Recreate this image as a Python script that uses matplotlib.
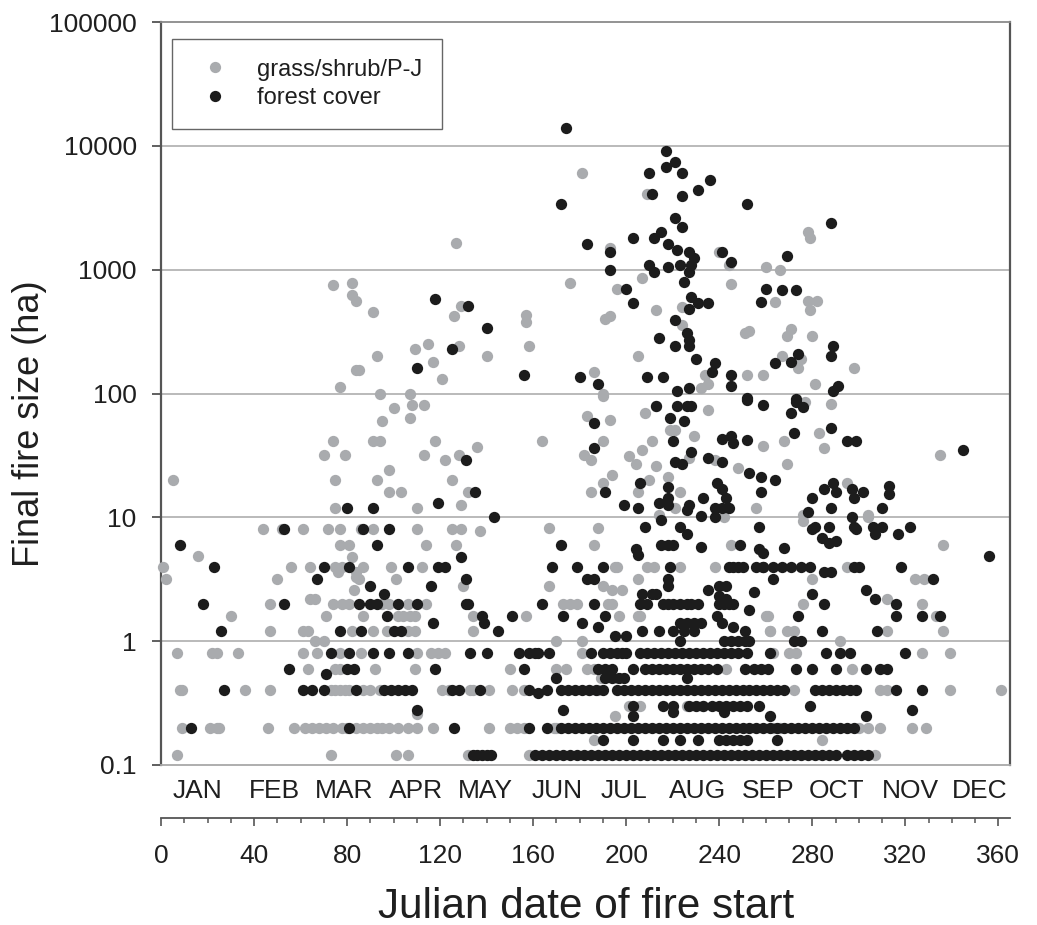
import matplotlib
matplotlib.use("Agg")
import matplotlib.pyplot as plt
from matplotlib.ticker import FixedLocator, MultipleLocator, NullLocator
from matplotlib.lines import Line2D
import matplotlib.transforms as mtransforms

plt.rcParams['font.family'] = ['Liberation Sans', 'DejaVu Sans']

# ---------------- data (Julian day, final fire size in ha) ----------------
gray_points = [
    (1, 4), (2, 3.2), (5, 20), (7, 0.8), (8, 0.4), (9, 0.4), (7, 0.12), (9, 0.2), (16, 4.9),
    (21, 0.2), (24, 0.2), (25, 0.2), (22, 0.8), (24, 0.8), (33, 0.8), (36, 0.4), (30, 1.6),
    (44, 8), (52, 8), (47, 1.2), (47, 0.4), (47, 2), (50, 3.2), (46, 0.2),
    (75, 12), (110, 12), (129, 12.5),
    (61, 8), (72, 8), (77, 8), (86, 8), (91, 8), (110, 8), (125, 8), (129, 8), (137, 7.7),
    (77, 6), (81, 6), (114, 6), (127, 6), (82, 4.8),
    (56, 4), (64, 4), (75, 4), (78, 4), (87, 4), (99, 4), (112, 4),
    (76, 3.6), (84, 3.6), (84, 3.3), (85, 3.2), (101, 3.2), (130, 2.8), (83, 2.6),
    (74, 2), (78, 2), (81, 2), (95, 2), (98, 2), (106, 2), (114, 2), (64, 2.2), (66, 2.2),
    (71, 1.6), (87, 1.6), (102, 1.6), (104, 1.6), (107, 1.6), (109, 1.6), (134, 1.6),
    (61, 1.2), (63, 1.2), (82, 1.2), (91, 1.2), (97, 1.2), (106, 1.2), (109, 1.2), (134, 1.2),
    (66, 1.0), (70, 1.0),
    (61, 0.8), (67, 0.8), (77, 0.8), (86, 0.8), (110, 0.8), (116, 0.8), (119, 0.8), (122, 0.8),
    (63, 0.6), (75, 0.6), (77, 0.6), (92, 0.6), (109, 0.6),
    (73, 0.4), (75, 0.4), (77, 0.4), (79, 0.4), (81, 0.4), (87, 0.4), (90, 0.4), (94, 0.4),
    (121, 0.4), (124, 0.4), (133, 0.4), (134, 0.4), (141, 0.4), (110, 0.26),
    (57, 0.2), (62, 0.2), (65, 0.2), (68, 0.2), (71, 0.2), (74, 0.2), (78, 0.2), (80, 0.2),
    (84, 0.2), (87, 0.2), (90, 0.2), (93, 0.2), (95, 0.2), (98, 0.2), (102, 0.2), (106, 0.2),
    (110, 0.2), (117, 0.2), (141, 0.2),
    (73, 0.12), (101, 0.12), (106, 0.12), (132, 0.12),
    (74, 750), (82, 780), (82, 620), (84, 560), (91, 455), (129, 510), (126, 420), (109, 230),
    (115, 250), (128, 240), (93, 200), (140, 200), (117, 180), (84, 155), (85, 155), (121, 130),
    (77, 113), (94, 100), (107, 100), (100, 76), (108, 81), (113, 81), (95, 60), (107, 63),
    (74, 41), (91, 41), (94, 41), (118, 41), (136, 37), (70, 32), (79, 32), (113, 32), (128, 32),
    (122, 29), (98, 24), (75, 20), (93, 20), (125, 20), (98, 16), (103, 16), (132, 16), (127, 1650),
    (181, 6000), (209, 4100), (193, 1500), (207, 850), (176, 780), (196, 700), (224, 500),
    (213, 470), (157, 430), (157, 380), (158, 240), (191, 400), (193, 420), (224, 360), (205, 200),
    (186, 150), (190, 100), (232, 110), (235, 120),
    (278, 2000), (279, 1800), (240, 1400), (244, 1100), (260, 1050), (266, 1000), (245, 770),
    (264, 550), (278, 560), (282, 560), (279, 470), (251, 310), (253, 320), (269, 290), (271, 330),
    (280, 290), (267, 200), (275, 190), (274, 160), (298, 160), (252, 140), (259, 140), (281, 120),
    (234, 140),
    (190, 95), (213, 80), (235, 74), (208, 69), (183, 66), (193, 61), (219, 51), (221, 51),
    (164, 41), (190, 41), (211, 41), (229, 45), (182, 32), (185, 29), (207, 35), (201, 31),
    (204, 27), (213, 26), (227, 30), (194, 22), (190, 19), (210, 20), (218, 21), (185, 16),
    (205, 16), (223, 16), (221, 12), (214, 10.5), (167, 8.2), (188, 8.2),
    (277, 85), (288, 83), (283, 48), (259, 38), (268, 41), (285, 36), (335, 32), (238, 29),
    (248, 25), (269, 27), (256, 12), (242, 10), (295, 19), (304, 10), (276, 9.4),
    (186, 6), (245, 6), (195, 4), (196, 4), (209, 4), (212, 4), (223, 4), (238, 4), (205, 3.2),
    (167, 2.8), (190, 2.8), (194, 2.6), (198, 2.6), (173, 2), (176, 2), (179, 2), (192, 2),
    (194, 2), (157, 1.6), (197, 1.6), (205, 1.6), (206, 1.6), (260, 1.6), (262, 1.2), (170, 1.0),
    (181, 1.0), (181, 0.8), (263, 0.8), (150, 0.6), (170, 0.6), (174, 0.6), (183, 0.6), (186, 0.6),
    (243, 0.6), (189, 0.5), (196, 0.5), (151, 0.4), (156, 0.4), (184, 0.4), (188, 0.4),
    (201, 0.3), (206, 0.3), (226, 0.3), (233, 0.3), (195, 0.25), (150, 0.2), (153, 0.2),
    (156, 0.2), (169, 0.2), (170, 0.2), (263, 0.2), (266, 0.2), (186, 0.16), (158, 0.12),
    (276, 10.5), (304, 10.5), (336, 6), (295, 4), (280, 3.2), (324, 3.2), (328, 3.2), (312, 2.2),
    (276, 2), (327, 2), (261, 1.6), (333, 1.6), (262, 1.2), (269, 1.2), (272, 1.2), (312, 1.2),
    (336, 1.2), (292, 1.0), (270, 0.8), (273, 0.8), (327, 0.8), (339, 0.8), (297, 0.6),
    (272, 0.4), (309, 0.4), (312, 0.4), (339, 0.4), (361, 0.4), (300, 0.2), (304, 0.2),
    (309, 0.2), (323, 0.2), (329, 0.2), (284, 0.16), (307, 0.12),
]

black_points = [
    (8, 6), (13, 0.2), (18, 2), (23, 4), (26, 1.2), (27, 0.4), (53, 8), (53, 2), (55, 0.6),
    (80, 12), (91, 12), (119, 13), (143, 10), (87, 8), (98, 8), (93, 6), (129, 4.8), (70, 4),
    (81, 4), (106, 4), (119, 4), (122, 4), (67, 3.2), (116, 2.8), (131, 3.2), (90, 2.8), (96, 2.4),
    (85, 2), (90, 2), (93, 2), (102, 2), (110, 2), (131, 2), (132, 2), (97, 1.6), (117, 1.4),
    (139, 1.4), (77, 1.2), (86, 1.2), (100, 1.2), (103, 1.2), (145, 1.2), (73, 0.8), (81, 0.8),
    (91, 0.8), (98, 0.8), (106, 0.8), (133, 0.8), (140, 0.8), (80, 0.6), (83, 0.6), (118, 0.6),
    (71, 0.54), (61, 0.4), (65, 0.4), (70, 0.4), (84, 0.4), (96, 0.4), (99, 0.4), (102, 0.4),
    (105, 0.4), (108, 0.4), (125, 0.4), (128, 0.4), (137, 0.4), (110, 0.28), (81, 0.2), (126, 0.2),
    (134, 0.12), (136, 0.12), (138, 0.12), (140, 0.12), (142, 0.12),
    (118, 580), (132, 510), (140, 340), (125, 230), (110, 160), (131, 29), (135, 16),
    (174, 14000), (172, 3400), (217, 9000), (221, 7400), (217, 6700), (210, 6000), (224, 6000),
    (236, 5300), (231, 4400), (211, 4100), (224, 3900), (221, 2600), (224, 2200), (215, 2000),
    (212, 1800), (203, 1800), (183, 1600), (218, 1600), (222, 1450), (193, 1400), (227, 1400),
    (229, 1250), (228, 1100), (210, 1100), (223, 1100), (218, 1050), (193, 1000), (212, 950),
    (227, 950), (200, 700), (225, 800), (203, 540), (228, 600), (231, 540), (235, 540), (227, 480),
    (221, 390), (226, 310), (227, 270), (227, 240), (214, 280), (221, 240), (230, 190), (156, 140),
    (180, 135), (188, 120), (209, 135), (216, 135), (222, 105), (227, 110),
    (252, 3400), (288, 2400), (241, 1400), (245, 1150), (269, 1300), (260, 700), (267, 680),
    (273, 680), (258, 550), (289, 240), (288, 200), (274, 210), (271, 180), (264, 175), (238, 175),
    (237, 150), (245, 140), (245, 115), (291, 115), (289, 105), (252, 92), (273, 90),
    (213, 80), (222, 80), (226, 80), (228, 80), (219, 64), (186, 58), (225, 60), (220, 41),
    (186, 36), (228, 34), (235, 30), (221, 28), (224, 27), (206, 19), (218, 17.5), (239, 19),
    (191, 16), (218, 14.4), (233, 14.4), (199, 12.5), (205, 12), (214, 13), (227, 12.5),
    (226, 11.5), (232, 10.2), (215, 9.5), (208, 8.3), (223, 8.3),
    (252, 89), (259, 81), (273, 85), (276, 78), (271, 69), (272, 48), (288, 53), (241, 43),
    (245, 45), (246, 40), (252, 42), (295, 41), (299, 41), (345, 35), (241, 28), (253, 23),
    (258, 21), (264, 20), (241, 17), (243, 14.4), (241, 12), (258, 16), (238, 10), (289, 19),
    (285, 17), (290, 16), (297, 17), (302, 16), (298, 14.4), (313, 18), (313, 15.5), (310, 12),
    (280, 14.4), (278, 11), (288, 12), (297, 10), (257, 8.3), (281, 8.3), (287, 8.3), (298, 8.3),
    (306, 8.3), (310, 8.3), (322, 8.3),
    (238, 12), (244, 12), (218, 12.5),
    (172, 6), (204, 5.5), (205, 5), (215, 6), (218, 6), (220, 6), (226, 7.3), (232, 5.8),
    (249, 6), (257, 5.5), (259, 5.2),
    (168, 4), (179, 4), (190, 4), (219, 4), (244, 4), (246, 4), (248, 4), (250, 4), (256, 4),
    (259, 4), (263, 3.2), (183, 3.2), (186, 3.2), (218, 3.2), (218, 2.8), (240, 2.8), (243, 2.8),
    (207, 2.4), (211, 2.4), (213, 2.4), (235, 2.6), (240, 2.3), (243, 2.2), (255, 2.5),
    (164, 2), (186, 2), (206, 2), (209, 2), (216, 2), (218, 2), (220, 2), (223, 2), (226, 2),
    (228, 2), (231, 2), (240, 2), (242, 2), (244, 2), (246, 2), (253, 1.8),
    (138, 1.6), (151, 1.6), (173, 1.6), (181, 1.4), (191, 1.6), (188, 1.3), (223, 1.4),
    (226, 1.4), (229, 1.4), (232, 1.4), (239, 1.6), (241, 1.4), (246, 1.3), (251, 1.2),
    (195, 1.1), (200, 1.1), (207, 1.2), (214, 1.2), (220, 1.2), (225, 1.2), (229, 1.2),
    (242, 1.0), (245, 1.0), (248, 1.0), (251, 1.0), (253, 1.0), (223, 1.0),
    (154, 0.8), (158, 0.8), (161, 0.8), (162, 0.8), (167, 0.8), (185, 0.8), (190, 0.8), (193, 0.8),
    (196, 0.8), (198, 0.8), (200, 0.8), (206, 0.8), (209, 0.8), (212, 0.8), (215, 0.8), (218, 0.8),
    (221, 0.8), (224, 0.8), (227, 0.8), (230, 0.8), (233, 0.8), (236, 0.8), (239, 0.8), (242, 0.8),
    (245, 0.8), (248, 0.8), (252, 0.8),
    (156, 0.6), (188, 0.6), (191, 0.6), (194, 0.6), (203, 0.6), (208, 0.6), (211, 0.6), (214, 0.6),
    (217, 0.6), (220, 0.6), (223, 0.6), (226, 0.6), (229, 0.6), (232, 0.6), (235, 0.6), (239, 0.6),
    (251, 0.6), (255, 0.6),
    (170, 0.5), (191, 0.5), (194, 0.5), (197, 0.5), (199, 0.5), (226, 0.5),
    (158, 0.4), (162, 0.38), (166, 0.4), (172, 0.4), (175, 0.4), (178, 0.4), (181, 0.4),
    (184, 0.4), (187, 0.4), (190, 0.4), (196, 0.4), (199, 0.4), (202, 0.4), (205, 0.4),
    (208, 0.4), (211, 0.4), (214, 0.4), (217, 0.4), (220, 0.4), (223, 0.4), (226, 0.4),
    (229, 0.4), (232, 0.4), (235, 0.4), (238, 0.4), (241, 0.4), (244, 0.4), (247, 0.4),
    (250, 0.4), (253, 0.4), (256, 0.4), (259, 0.4), (262, 0.4), (265, 0.4), (268, 0.4),
    (281, 0.4), (284, 0.4), (287, 0.4), (290, 0.4), (293, 0.4), (296, 0.4), (299, 0.4),
    (316, 0.4), (327, 0.4),
    (203, 0.3), (216, 0.3), (220, 0.3), (227, 0.3), (230, 0.3), (233, 0.3), (237, 0.3),
    (240, 0.3), (243, 0.3), (246, 0.3), (249, 0.3), (252, 0.3), (257, 0.3), (279, 0.3),
    (173, 0.28), (220, 0.27), (242, 0.27), (323, 0.28), (203, 0.25), (262, 0.25), (303, 0.25),
    (158, 0.2), (166, 0.2), (172, 0.2), (175, 0.2), (178, 0.2), (181, 0.2), (184, 0.2),
    (187, 0.2), (190, 0.2), (193, 0.2), (196, 0.2), (199, 0.2), (202, 0.2), (205, 0.2),
    (208, 0.2), (211, 0.2), (214, 0.2), (217, 0.2), (220, 0.2), (223, 0.2), (226, 0.2),
    (229, 0.2), (232, 0.2), (235, 0.2), (238, 0.2), (241, 0.2), (244, 0.2), (247, 0.2),
    (250, 0.2), (253, 0.2), (256, 0.2), (259, 0.2), (262, 0.2), (265, 0.2), (268, 0.2),
    (271, 0.2), (274, 0.2), (277, 0.2), (280, 0.2), (283, 0.2), (286, 0.2), (289, 0.2),
    (292, 0.2), (295, 0.2), (298, 0.2),
    (190, 0.16), (203, 0.16), (216, 0.16), (223, 0.16), (231, 0.16), (240, 0.16), (243, 0.16),
    (246, 0.16), (249, 0.16), (252, 0.16), (265, 0.16),
    (161, 0.12), (164, 0.12), (167, 0.12), (170, 0.12), (173, 0.12), (176, 0.12), (179, 0.12),
    (182, 0.12), (185, 0.12), (188, 0.12), (191, 0.12), (194, 0.12), (197, 0.12), (200, 0.12),
    (203, 0.12), (206, 0.12), (209, 0.12), (212, 0.12), (215, 0.12), (218, 0.12), (221, 0.12),
    (224, 0.12), (227, 0.12), (230, 0.12), (233, 0.12), (236, 0.12), (239, 0.12), (242, 0.12),
    (245, 0.12), (248, 0.12), (251, 0.12), (254, 0.12), (257, 0.12), (260, 0.12), (263, 0.12),
    (266, 0.12), (269, 0.12), (272, 0.12), (275, 0.12), (278, 0.12), (281, 0.12), (284, 0.12),
    (287, 0.12), (290, 0.12), (295, 0.12), (298, 0.12), (301, 0.12), (304, 0.12),
    (280, 8), (299, 8), (307, 7.3), (317, 7.3),
    (284, 6.8), (287, 6.2), (290, 6.5), (268, 5.7), (356, 4.9),
    (259, 4), (263, 4), (267, 4), (271, 4), (275, 4), (279, 4), (285, 3.6), (288, 3.6),
    (298, 4), (300, 4), (318, 4),
    (332, 3.2), (303, 2.6), (307, 2.2), (280, 2.4), (285, 2), (316, 2), (274, 1.6), (316, 1.6),
    (327, 1.6), (335, 1.6), (284, 1.2), (308, 1.2), (272, 1), (275, 1), (262, 0.8), (286, 0.8),
    (292, 0.8), (296, 0.8), (320, 0.8),
    (258, 0.6), (261, 0.6), (273, 0.6), (280, 0.6), (290, 0.6), (303, 0.6), (309, 0.6), (312, 0.6),
]

series_labels = ["grass/shrub/P-J", "forest cover"]
months = ["JAN", "FEB", "MAR", "APR", "MAY", "JUN", "JUL", "AUG", "SEP", "OCT", "NOV", "DEC"]
month_pos = [15.5, 48.6, 78.7, 109.6, 139.3, 170.2, 199, 230.8, 260.9, 290.6, 322.4, 352]
y_ticks = [0.1, 1, 10, 100, 1000, 10000, 100000]
y_ticklabels = ["0.1", "1", "10", "100", "1000", "10000", "100000"]
x_ticks = [0, 40, 80, 120, 160, 200, 240, 280, 320, 360]

GRAY = '#a9abae'
BLACK = '#1c1c1c'
TXT = '#1f1f1f'

W, H = 1037, 925
fig = plt.figure(figsize=(W / 100, H / 100), dpi=100)

L, R, T, B = 161, 1010, 22, 765
ax = fig.add_axes([L / W, 1 - B / H, (R - L) / W, (B - T) / H])
ax.set_yscale('log')
ax.set_xlim(0, 365)
ax.set_ylim(0.1, 100000)

gx = [p[0] for p in gray_points]
gy = [p[1] for p in gray_points]
bx = [p[0] for p in black_points]
by = [p[1] for p in black_points]
ax.scatter(gx, gy, s=66, color=GRAY, linewidths=0, zorder=3, clip_on=False)
ax.scatter(bx, by, s=66, color=BLACK, linewidths=0, zorder=4, clip_on=False)

ax.yaxis.set_major_locator(FixedLocator(y_ticks))
ax.set_yticklabels(y_ticklabels)
ax.yaxis.set_minor_locator(NullLocator())
ax.xaxis.set_major_locator(NullLocator())
ax.xaxis.set_minor_locator(NullLocator())
ax.tick_params(axis='y', which='major', direction='out', length=6.5, width=1.2,
               color='#444444', labelsize=19, labelcolor=TXT, pad=11)
for v in y_ticks[1:-1]:
    ax.axhline(v, color='#b4b4b4', lw=1.3, zorder=1)

ax.spines['left'].set_color('#555555')
ax.spines['left'].set_linewidth(1.6)
ax.spines['right'].set_color('#555555')
ax.spines['right'].set_linewidth(1.6)
ax.spines['top'].set_color('#8a8a8a')
ax.spines['top'].set_linewidth(1.3)
ax.spines['bottom'].set_color('#a8a8a8')
ax.spines['bottom'].set_linewidth(1.3)

# month names under the panel
trans = mtransforms.blended_transform_factory(ax.transData, ax.transAxes)
for m, p in zip(months, month_pos):
    ax.text(p, (B - 797.5) / (B - T), m, transform=trans, ha='center', va='baseline',
            fontsize=19, color=TXT)

# legend
handles = [Line2D([], [], ls='none', marker='o', markersize=8.1, markerfacecolor=GRAY,
                  markeredgewidth=0),
           Line2D([], [], ls='none', marker='o', markersize=8.1, markerfacecolor=BLACK,
                  markeredgewidth=0)]
leg = ax.legend(handles, series_labels, loc='upper left',
                bbox_to_anchor=((172 - L) / (R - L), (B - 39) / (B - T)),
                borderaxespad=0, fontsize=17, frameon=True, fancybox=False,
                borderpad=0.83, labelspacing=0.29, handlelength=1.98, handletextpad=0.79,
                edgecolor='#666666', framealpha=1)
leg.get_frame().set_linewidth(1.0)
for t in leg.get_texts():
    t.set_color(TXT)

# separate day-of-year axis below
ax2 = fig.add_axes([L / W, 1 - 818 / H, (R - L) / W, 0.01])
ax2.set_xlim(0, 365)
ax2.patch.set_visible(False)
for s in ['top', 'left', 'right']:
    ax2.spines[s].set_visible(False)
ax2.spines['bottom'].set_color('#555555')
ax2.spines['bottom'].set_linewidth(1.3)
ax2.yaxis.set_major_locator(NullLocator())
ax2.xaxis.set_major_locator(FixedLocator(x_ticks))
ax2.xaxis.set_minor_locator(MultipleLocator(10))
ax2.tick_params(axis='x', which='major', direction='out', length=6, width=1.2,
                color='#555555', labelsize=19, labelcolor=TXT, pad=13)
ax2.tick_params(axis='x', which='minor', direction='out', length=3.6, width=1.1,
                color='#555555')

fig.text(586 / W, 1 - 918 / H, "Julian date of fire start", ha='center', va='baseline',
         fontsize=30.4, color=TXT)
fig.text(30 / W, 1 - 424 / H, "Final fire size (ha)", ha='center', va='center',
         rotation=90, fontsize=26, color=TXT)

fig.savefig("out.png", dpi=100)
